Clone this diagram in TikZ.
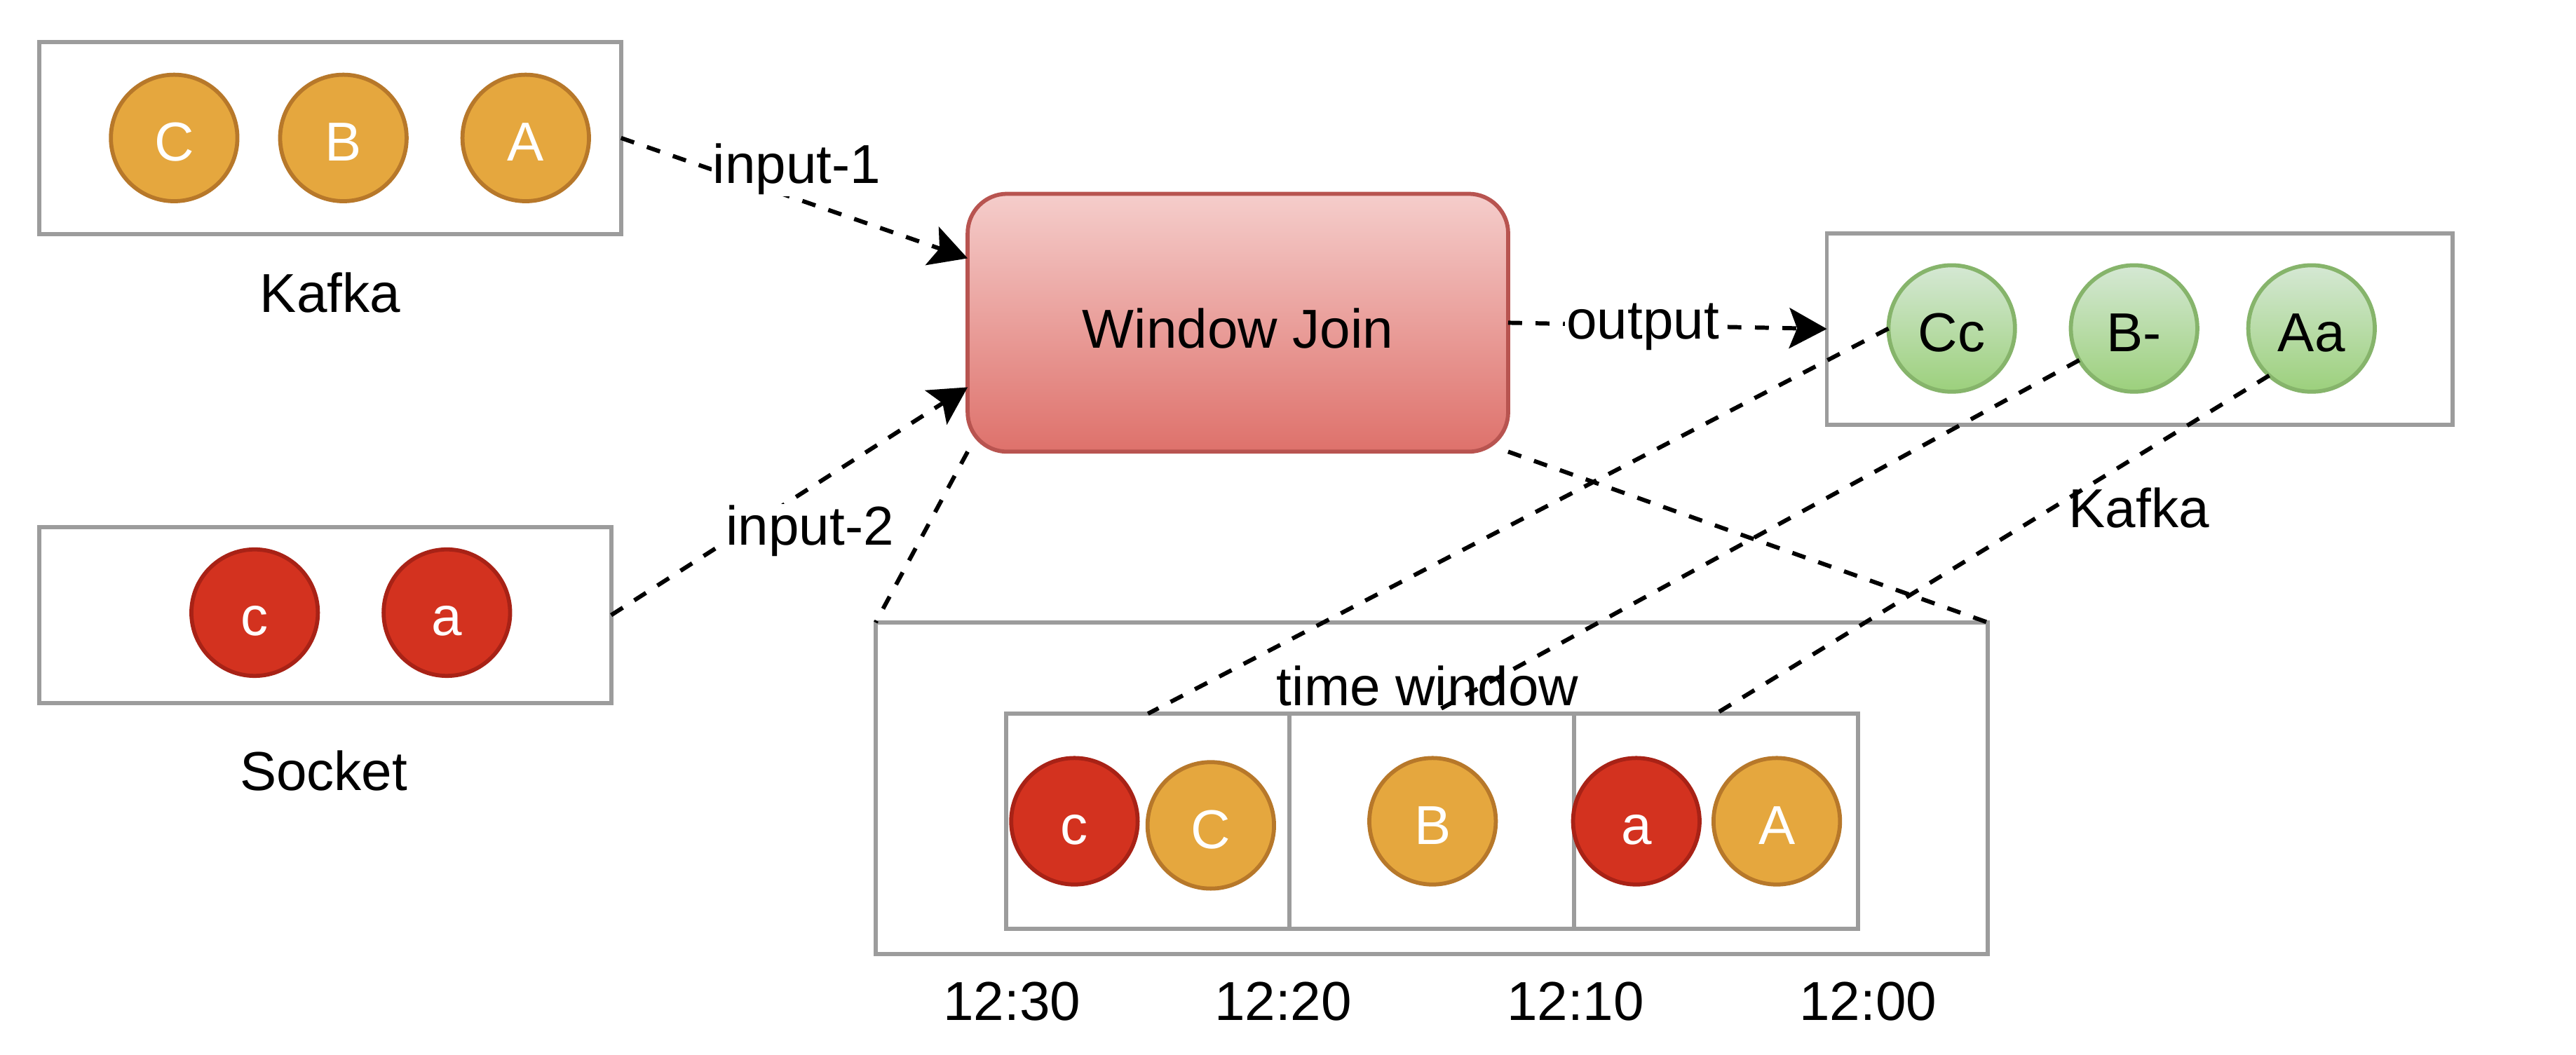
\documentclass[tikz,border=0pt]{standalone}
\usepackage{fontspec}
\setmainfont{Liberation Sans}
\usetikzlibrary{arrows.meta,calc}
\definecolor{boxgray}{HTML}{9C9C9C}
\definecolor{orfill}{HTML}{E5A73E}
\definecolor{orstroke}{HTML}{B7782A}
\definecolor{redfill}{HTML}{D3321F}
\definecolor{redstroke}{HTML}{A82216}
\definecolor{grtop}{HTML}{D5E8D4}
\definecolor{grbot}{HTML}{9CD07C}
\definecolor{grstroke}{HTML}{86B46B}
\definecolor{wjtop}{HTML}{F5CDCB}
\definecolor{wjbot}{HTML}{DE716B}
\definecolor{wjstroke}{HTML}{B85450}
\begin{document}
\begin{tikzpicture}[x=0.2mm,y=-0.2mm,
  font=\fontsize{19pt}{23pt}\selectfont,
  graybox/.style={draw=boxgray, line width=1.4pt, inner sep=0pt, outer sep=0pt, fill=white},
  cellbox/.style={graybox, minimum height=26.2mm},
  ball/.style={circle, minimum size=15.4mm, inner sep=0pt, outer sep=0pt, line width=1.4pt, text height=15.9pt, text depth=0pt},
  orball/.style={ball, draw=orstroke, fill=orfill, text=white},
  redball/.style={ball, draw=redstroke, fill=redfill, text=white},
  grball/.style={ball, draw=grstroke, top color=grtop, bottom color=grbot, text=black},
  wjbox/.style={draw=wjstroke, line width=1.4pt, rounded corners=4.8mm, top color=wjtop, bottom color=wjbot,
    minimum width=65.8mm, minimum height=31.4mm, inner sep=0pt, outer sep=0pt, text height=17.3pt, text depth=0pt},
  flow/.style={line width=1.45pt, dash pattern=on 4.8pt off 4.7pt},
  arr/.style={flow, -{Stealth[length=13pt,width=14pt,inset=2.7pt]}},
  lbl/.style={anchor=base, inner sep=0pt},
  elabel/.style={anchor=base, fill=white, inner sep=0.5pt}
]
\useasboundingbox (0,0) rectangle (1568,642);

% input Kafka
\node[graybox, minimum width=70.8mm, minimum height=23.4mm] (kbox) at (201,84) {};
\node[orball] (kC) at (106,84) {C};
\node[orball] (kB) at (209,84) {B};
\node[orball] (kA) at (320,84) {A};
\node[lbl] (klab) at (201,190) {Kafka};

% Socket
\node[graybox, minimum width=69.6mm, minimum height=21.4mm] (sbox) at (198,374.5) {};
\node[redball] (sc) at (155,373) {c};
\node[redball] (sa) at (272,373) {a};
\node[lbl] (slab) at (197,481) {Socket};

% Window Join
\node[wjbox] (wj) at (753.5,196.5) {Window Join};

% output Kafka
\node[graybox, minimum width=76.2mm, minimum height=23.3mm] (obox) at (1302.5,200.25) {};
\node[grball] (oCc) at (1188,200) {Cc};
\node[grball] (oB) at (1299,200) {B-};
\node[grball] (oAa) at (1407,200) {Aa};
\node[lbl] (olab) at (1302,321) {Kafka};

% time window
\node[graybox, minimum width=135.4mm, minimum height=40.4mm] (tw) at (871.5,480) {};
\node[lbl] (twlab) at (869,429.5) {time window};
\node[cellbox, minimum width=34.5mm] (cell1) at (698.75,500) {};
\node[cellbox, minimum width=34.6mm] (cell2) at (871.5,500) {};
\node[cellbox, minimum width=34.6mm] (cell3) at (1044.5,500) {};
\node[redball] (tc) at (654,500) {c};
\node[orball] (tC) at (737,502.5) {C};
\node[orball] (tB) at (872,500) {B};
\node[redball] (ta) at (996,500) {a};
\node[orball] (tA) at (1081.5,500) {A};

\node[lbl] (t1) at (616,621) {12:30};
\node[lbl] (t2) at (781,621) {12:20};
\node[lbl] (t3) at (959,621) {12:10};
\node[lbl] (t4) at (1137,621) {12:00};

% connectors
\draw[arr] (kbox.east) -- ($(wj.north west)!0.25!(wj.south west)$);
\draw[arr] (sbox.east) -- ($(wj.north west)!0.75!(wj.south west)$);
\draw[arr] (wj.east) -- (obox.west);
\draw[flow] (wj.south west) -- (tw.north west);
\draw[flow] (wj.south east) -- (tw.north east);
\draw[flow] (oCc.west) -- (cell1.north);
\draw[flow] (oB.210) -- (cell2.north);
\draw[flow] (oAa.228) -- (cell3.north);

\node[elabel] (l1) at (485,111.7) {input-1};
\node[elabel] (l2) at (493,332) {input-2};
\node[elabel] (l3) at (1000,206.3) {output};
\end{tikzpicture}
\end{document}
